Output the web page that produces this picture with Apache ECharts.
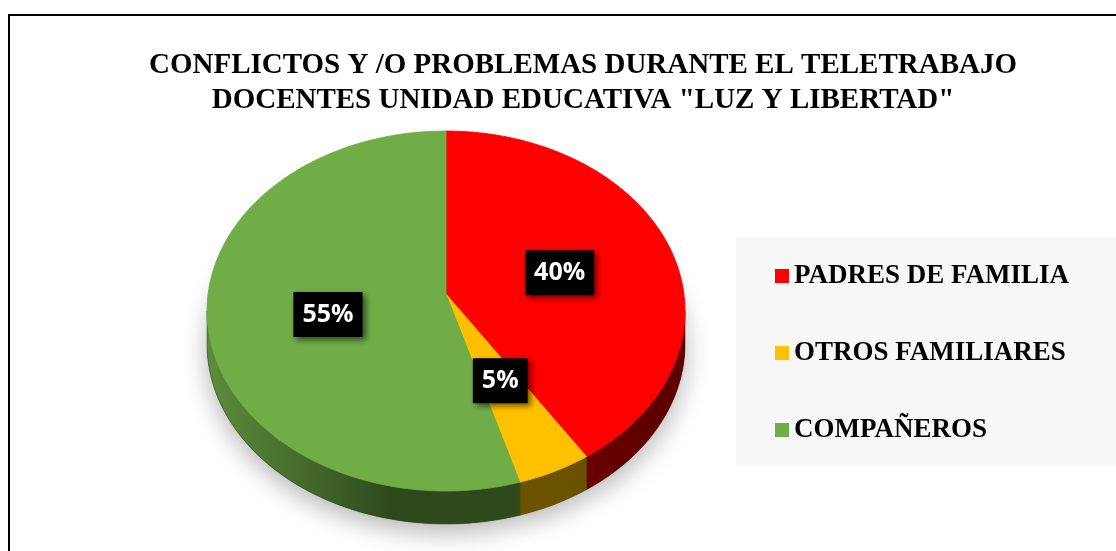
<!DOCTYPE html>
<html lang="es">
<head>
<meta charset="UTF-8">
<title>Conflictos y/o problemas durante el teletrabajo</title>
<script src="https://cdn.jsdelivr.net/npm/echarts@6/dist/echarts.min.js"></script>
<style>
  html, body { margin: 0; padding: 0; background: #fff; }
  #chart { width: 1116px; height: 551px; }
</style>
</head>
<body>
<div id="chart"></div>
<script>
// data
const categories = ['PADRES DE FAMILIA', 'OTROS FAMILIARES', 'COMPAÑEROS'];
const values = [40, 5, 55];

// look
const topColors = ['#ff0000', '#ffc000', '#70ad47'];
const sideColors = ['#5e0000', '#654e00', '#2e4a1d'];
const sideLight = ['#700000', '#6b5300', '#5a8a3a'];

// tilted pie geometry (px)
const cx = 446, cy = 311, rx = 239, ry = 180, depth = 33, apexY = 294;

const total = values.reduce((a, b) => a + b, 0);

function rim(t, dy) {
  return [cx + rx * Math.sin(t), cy - ry * Math.cos(t) + (dy || 0)];
}
function arc(s, e, dy) {
  const pts = [];
  const n = Math.max(2, Math.ceil((e - s) / 0.02));
  for (let j = 0; j <= n; j++) pts.push(rim(s + (e - s) * j / n, dy));
  return pts;
}

function renderSlice(i) {
  return function (params, api) {
    let before = 0;
    for (let k = 0; k < i; k++) before += values[k];
    const v = api.value(0);
    const a0 = before / total * 2 * Math.PI;
    const a1 = (before + v) / total * 2 * Math.PI;
    const children = [];

    // bottom face, casts the soft shadow
    children.push({
      type: 'polygon', z2: 0,
      shape: { points: [[cx, apexY + depth]].concat(arc(a0, a1, depth)) },
      style: { fill: sideColors[i], shadowBlur: 26, shadowColor: 'rgba(0,0,0,0.3)', shadowOffsetY: 8 }
    });

    // visible side wall (front half only)
    const s = Math.max(a0, Math.PI / 2), e = Math.min(a1, 3 * Math.PI / 2);
    if (e > s) {
      const upper = arc(s, e, 0), lower = arc(s, e, depth).reverse();
      const fill = i === 2
        ? new echarts.graphic.LinearGradient(215, 0, 390, 0, [
            { offset: 0, color: sideLight[i] }, { offset: 1, color: sideColors[i] }], true)
        : new echarts.graphic.LinearGradient(560, 0, 660, 0, [
            { offset: 0, color: sideLight[i] }, { offset: 1, color: sideColors[i] }], true);
      children.push({
        type: 'polygon', z2: 1,
        shape: { points: upper.concat(lower) },
        style: { fill: fill, stroke: sideColors[i], lineWidth: 0.5 }
      });
    }

    // top face
    children.push({
      type: 'polygon', z2: 10,
      shape: { points: [[cx, apexY]].concat(arc(a0, a1, 0)) },
      style: { fill: topColors[i], stroke: topColors[i], lineWidth: 0.8 }
    });

    // percentage label
    const m = (a0 + a1) / 2;
    const r = rim(m, 0);
    children.push({
      type: 'text', z2: 20,
      style: {
        text: Math.round(v / total * 100) + '%',
        x: cx + 0.5 * (r[0] - cx),
        y: apexY - 2 + 0.5 * (r[1] - apexY),
        align: 'center', verticalAlign: 'middle',
        fill: '#fff',
        font: 'bold 25px "Open Sans"',
        lineHeight: 27,
        backgroundColor: '#000',
        padding: [9, 9],
        shadowBlur: 6, shadowColor: 'rgba(0,0,0,0.55)', shadowOffsetX: 3, shadowOffsetY: 3
      }
    });
    return { type: 'group', children: children };
  };
}

const chart = echarts.init(document.getElementById('chart'));

chart.setOption({
  animation: false,
  title: {
    text: 'CONFLICTOS Y /O PROBLEMAS DURANTE EL TELETRABAJO\nDOCENTES UNIDAD EDUCATIVA "LUZ Y LIBERTAD"',
    left: 583,
    top: 48,
    padding: 0,
    textAlign: 'center',
    textStyle: {
      fontFamily: '"Liberation Serif", "Times New Roman", serif',
      fontWeight: 'bold',
      fontSize: 29,
      lineHeight: 35,
      color: '#000'
    }
  },
  graphic: [
    { type: 'rect', z: -10, shape: { x: 9, y: 15, width: 1200, height: 600 },
      style: { fill: null, stroke: '#000', lineWidth: 2 } },
    { type: 'rect', z: -9, shape: { x: 736, y: 237, width: 400, height: 229 },
      style: { fill: '#f7f7f7' } }
  ],
  legend: {
    orient: 'vertical',
    left: 775,
    top: 262,
    padding: 0,
    itemGap: 49,
    itemWidth: 14,
    itemHeight: 14,
    icon: 'rect',
    selectedMode: false,
    data: categories,
    textStyle: {
      fontFamily: '"Liberation Serif", "Times New Roman", serif',
      fontWeight: 'bold',
      fontSize: 27,
      lineHeight: 28,
      color: '#000'
    }
  },
  series: categories.map((name, i) => ({
    type: 'custom',
    name: name,
    coordinateSystem: 'none',
    silent: true,
    itemStyle: { color: topColors[i] },
    data: [[values[i]]],
    renderItem: renderSlice(i)
  }))
});
</script>
</body>
</html>
